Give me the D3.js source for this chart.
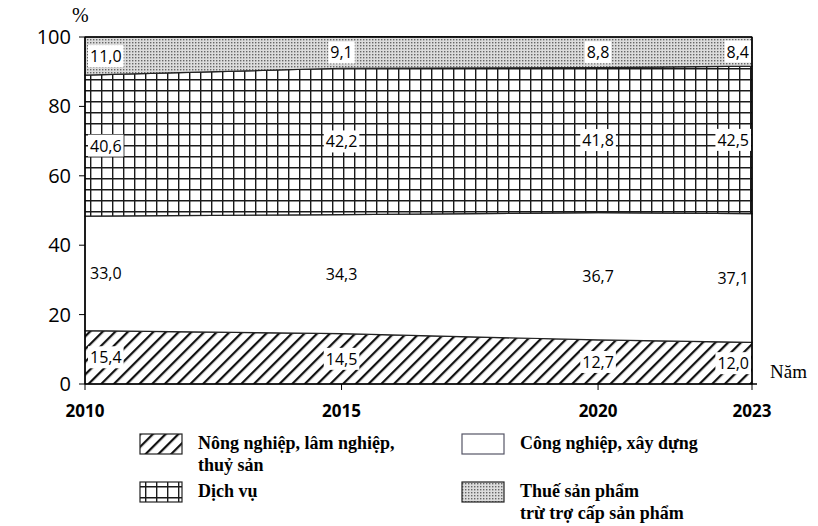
<!DOCTYPE html><html><head><meta charset="utf-8">
<script src="https://cdn.jsdelivr.net/npm/d3@7"></script>
<style>body{margin:0;background:#fff}</style></head><body>
<svg id="c" width="818" height="526"></svg>
<script>
const years=[2010,2015,2020,2023];
const nongNghiep=[15.4,14.5,12.7,12.0];
const congNghiep=[33.0,34.3,36.7,37.1];
const dichVu=[40.6,42.2,41.8,42.5];
const thue=[11.0,9.1,8.8,8.4];
const yTicks=[0,20,40,60,80,100];
const seriesNames=["Nông nghiệp, lâm nghiệp, thuỷ sản","Công nghiệp, xây dựng","Dịch vụ","Thuế sản phẩm trừ trợ cấp sản phẩm"];

const svg=d3.select("#c");
const x=d3.scaleLinear().domain([2010,2023]).range([85,752]);
const y=d3.scaleLinear().domain([0,100]).range([384,37]);
const defs=svg.append("defs");
const hatch=defs.append("pattern").attr("id","hatch").attr("patternUnits","userSpaceOnUse").attr("width",9).attr("height",9).attr("patternTransform","rotate(45)");
hatch.append("rect").attr("width",9).attr("height",9).attr("fill","#fff");
hatch.append("line").attr("x1",0).attr("y1",0).attr("x2",0).attr("y2",9).attr("stroke","#111").attr("stroke-width",4.5);
const grid=defs.append("pattern").attr("id","grid").attr("patternUnits","userSpaceOnUse").attr("width",11).attr("height",11).attr("x",2).attr("y",2);
grid.append("rect").attr("width",11).attr("height",11).attr("fill","#fff");
grid.append("path").attr("d","M0,0H11M0,0V11").attr("stroke","#1a1a1a").attr("stroke-width",2.8);
const dots=defs.append("pattern").attr("id","dots").attr("patternUnits","userSpaceOnUse").attr("width",3).attr("height",3);
dots.append("rect").attr("width",3).attr("height",3).attr("fill","#dcdcdc");
dots.append("rect").attr("width",1.4).attr("height",1.4).attr("fill","#666");

const data=years.map((yr,i)=>({year:yr,a:nongNghiep[i],b:congNghiep[i],c:dichVu[i],d:thue[i]}));
const keys=["a","b","c","d"];
const fills=["url(#hatch)","#fff","url(#grid)","url(#dots)"];
const stack=d3.stack().keys(keys)(data);
const area=d3.area().x(d=>x(d.data.year)).y0(d=>y(d[0])).y1(d=>y(d[1]));
svg.selectAll(".ar").data(stack).join("path").attr("d",area).attr("fill",(d,i)=>fills[i]).attr("stroke","#222").attr("stroke-width",1.2);

svg.append("line").attr("x1",x(2010)).attr("x2",x(2010)).attr("y1",y(100)).attr("y2",y(0)).attr("stroke","#000").attr("stroke-width",1.5);
svg.append("line").attr("x1",x(2010)).attr("x2",x(2023)+5).attr("y1",y(0)).attr("y2",y(0)).attr("stroke","#000").attr("stroke-width",1.5);
svg.append("line").attr("x1",x(2023)).attr("x2",x(2023)).attr("y1",y(100)).attr("y2",y(0)).attr("stroke","#000").attr("stroke-width",1.5);
svg.append("line").attr("x1",x(2010)).attr("x2",x(2023)).attr("y1",y(100)).attr("y2",y(100)).attr("stroke","#000").attr("stroke-width",1.5);
yTicks.forEach(t=>{
 svg.append("line").attr("x1",x(2010)-6).attr("x2",x(2010)).attr("y1",y(t)).attr("y2",y(t)).attr("stroke","#000");
 svg.append("text").attr("x",x(2010)-14).attr("y",y(t)+7).attr("text-anchor","end").attr("font-family","Open Sans, sans-serif").attr("font-size",20).text(t);
});
years.forEach(yr=>{
 svg.append("line").attr("x1",x(yr)).attr("x2",x(yr)).attr("y1",y(0)).attr("y2",y(0)+6).attr("stroke","#000");
 svg.append("text").attr("x",x(yr)).attr("y",417).attr("text-anchor","middle").attr("font-family","Open Sans, sans-serif").attr("font-weight","bold").attr("font-size",17).text(yr);
});
svg.append("text").attr("x",72).attr("y",22).attr("font-family","Liberation Serif, serif").attr("font-size",20).text("%");
svg.append("text").attr("x",770).attr("y",378).attr("font-family","Liberation Serif, serif").attr("font-size",19).text("Năm");

const anchors=["start","middle","middle","end"];
const offs=[5,0,0,-3];
stack.forEach(s=>{
 s.forEach((d,i)=>{
  const v=d[1]-d[0];
  const tx=x(d.data.year)+offs[i], ty=y((d[0]+d[1])/2)+6;
  const t=svg.append("text").attr("x",tx).attr("y",ty).attr("text-anchor",anchors[i]).attr("font-family","Open Sans, sans-serif").attr("font-size",16).text(v.toFixed(1).replace(".",","));
  const bb=t.node().getBBox();
  svg.insert("rect",()=>t.node()).attr("x",bb.x-2).attr("y",bb.y).attr("width",bb.width+4).attr("height",bb.height).attr("fill","#fff");
 });
});

const leg=[{f:"url(#hatch)",x:140,y:434,l:["Nông nghiệp, lâm nghiệp,","thuỷ sản"]},
 {f:"#fff",x:462,y:434,l:[seriesNames[1]]},
 {f:"url(#grid)",x:140,y:482,l:["Dịch vụ"]},
 {f:"url(#dots)",x:462,y:482,l:["Thuế sản phẩm","trừ trợ cấp sản phẩm"]}];
leg.forEach(g=>{
 svg.append("rect").attr("x",g.x).attr("y",g.y).attr("width",42).attr("height",20).attr("fill",g.f).attr("stroke",g.f==="#fff"?"#556":"#222").attr("stroke-width",1.2);
 g.l.forEach((s,j)=>svg.append("text").attr("x",g.x+58).attr("y",g.y+15+j*22).attr("font-family","Liberation Serif, serif").attr("font-weight","bold").attr("font-size",18).text(s));
});
</script></body></html>
